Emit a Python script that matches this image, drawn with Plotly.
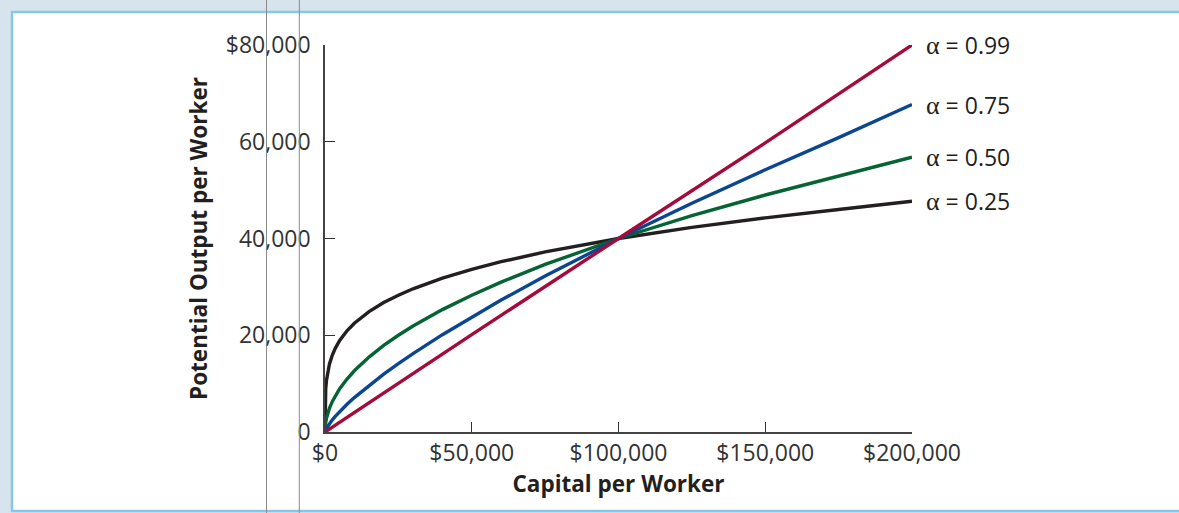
import plotly.graph_objects as go

# Capital per worker (x) and potential output per worker (y)
k_points = [0, 10, 50, 250, 500, 1000, 1500, 2500, 3500, 5000, 7500, 10000, 15000, 20000,
            25000, 30000, 40000, 50000, 60000, 75000, 100000, 125000, 150000, 175000, 200000]
y_a025 = [0, 4000, 5981, 8944, 10637, 12649, 13999, 15906, 17301, 18915, 20933, 22494,
          24893, 26750, 28284, 29604, 31812, 33636, 35204, 37224, 40000, 42295, 44267,
          46008, 47700]
y_a050 = [0, 400, 894, 2000, 2828, 4000, 4899, 6325, 7483, 8944, 10954, 12649, 15492,
          17889, 20000, 21909, 25298, 28284, 30984, 34641, 40000, 44721, 48990, 52915, 56800]
y_a075 = [0, 40, 134, 447, 752, 1265, 1715, 2515, 3236, 4229, 5731, 7113, 9641, 11963,
          14142, 16216, 20119, 23784, 27267, 32237, 40000, 47287, 54216, 60858, 67700]
k_red = [0, 50000, 100000, 150000, 200000]
y_a099 = [0, 20139, 40000, 59756, 80000]

series_labels = ["α = 0.99", "α = 0.75", "α = 0.50", "α = 0.25"]
x_tickvals = [0, 50000, 100000, 150000, 200000]
x_ticktext = ["$0", "$50,000", "$100,000", "$150,000", "$200,000"]
y_tickvals = [0, 20000, 40000, 60000, 80000]
y_ticktext = ["0", "20,000", "40,000", "60,000", "$80,000"]

colors = {"0.99": "#a50b3a", "0.75": "#0b4690", "0.50": "#056334", "0.25": "#231f20"}
FONT = "Open Sans"

fig = go.Figure()
series = [
    (k_points, y_a025, colors["0.25"], series_labels[3]),
    (k_points, y_a050, colors["0.50"], series_labels[2]),
    (k_points, y_a075, colors["0.75"], series_labels[1]),
    (k_red, y_a099, colors["0.99"], series_labels[0]),
]
for xs, ys, c, name in series:
    fig.add_trace(go.Scatter(x=xs, y=ys, mode="lines", name=name,
                             line=dict(color=c, width=3.4), showlegend=False,
                             hoverinfo="skip"))
    alpha, rest = name.split(" ", 1)
    fig.add_annotation(x=xs[-1], y=ys[-1], xref="x", yref="y",
                       text=f'<span style="font-family:Liberation Serif;font-size:26px">{alpha}</span> {rest}',
                       showarrow=False, xanchor="left", yanchor="middle",
                       xshift=12, font=dict(family=FONT, size=23, color="#231f20"))

L, R, T, B = 325, 267, 45, 81
W, H = 1179, 513
pw, ph = W - L - R, H - T - B


def px_x(p):
    return (p - L) / pw


def px_y(p):
    return (H - B - p) / ph


shapes = [
    # white panel
    dict(type="rect", xref="paper", yref="paper", x0=px_x(13), x1=px_x(1185),
         y0=px_y(510.5), y1=px_y(12.5), fillcolor="white", line=dict(width=0), layer="below"),
    # light blue borders
    dict(type="line", xref="paper", yref="paper", x0=px_x(12), x1=px_x(12),
         y0=px_y(512), y1=px_y(11), line=dict(color="#84c9ea", width=2.5), layer="below"),
    dict(type="line", xref="paper", yref="paper", x0=px_x(11), x1=px_x(1185),
         y0=px_y(12), y1=px_y(12), line=dict(color="#84c9ea", width=2.5), layer="below"),
    dict(type="line", xref="paper", yref="paper", x0=px_x(11), x1=px_x(1185),
         y0=px_y(511), y1=px_y(511), line=dict(color="#84c9ea", width=2.5), layer="below"),
    # thin grey guide lines
    dict(type="line", xref="paper", yref="paper", x0=px_x(266.5), x1=px_x(266.5),
         y0=px_y(514), y1=px_y(-1), line=dict(color="#8a8a8a", width=1), layer="above"),
    dict(type="line", xref="paper", yref="paper", x0=px_x(299.3), x1=px_x(299.3),
         y0=px_y(514), y1=px_y(-1), line=dict(color="#8a8a8a", width=1), layer="above"),
]

fig.update_layout(
    width=W, height=H,
    margin=dict(l=L, r=R, t=T, b=B, pad=0),
    paper_bgcolor="#d7e3ed",
    plot_bgcolor="white",
    shapes=shapes,
    font=dict(family=FONT, color="#231f20"),
    xaxis=dict(range=[0, 200000], tickvals=x_tickvals, ticktext=x_ticktext,
               ticks="inside", ticklen=10, tickwidth=1.2, tickcolor="#333",
               showline=True, linecolor="#444", linewidth=1.6, showgrid=False,
               zeroline=False, tickfont=dict(size=23, family=FONT, color="#333"),
               title=dict(text="<b>Capital per Worker</b>", standoff=6,
                          font=dict(size=22.5, family=FONT, color="#231f20"))),
    yaxis=dict(range=[0, 80000], tickvals=y_tickvals, ticktext=y_ticktext,
               ticks="inside", ticklen=10, tickwidth=1.2, tickcolor="#333",
               showline=True, linecolor="#444", linewidth=1.6, showgrid=False,
               zeroline=False, ticklabelstandoff=8,
               tickfont=dict(size=23, family=FONT, color="#333"),
               title=dict(text="<b>Potential Output per Worker</b>", standoff=12,
                          font=dict(size=22.5, family=FONT, color="#231f20"))),
)

fig.write_html("out.html", config={"displayModeBar": False},
               post_script="document.body.style.margin='0';document.body.style.overflow='hidden';")
